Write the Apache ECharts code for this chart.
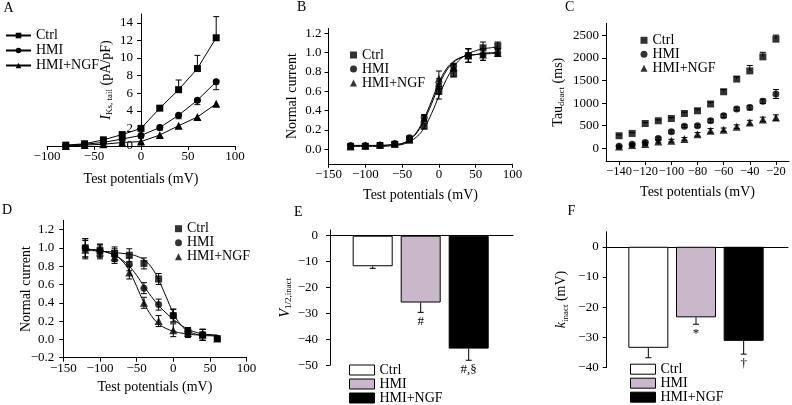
<!DOCTYPE html>
<html><head><meta charset="utf-8">
<script src="https://cdn.jsdelivr.net/npm/echarts@6/dist/echarts.min.js"></script>
<style>html,body{margin:0;padding:0;background:#fff}#c{width:792px;height:405px}</style>
</head><body><div id="c"></div>
<script>
// ---------- data ----------
const groups = ['Ctrl', 'HMI', 'HMI+NGF'];

// Panel A: I_Ks,tail vs test potential
const vA = [-80, -60, -40, -20, 0, 20, 40, 60, 80];
const aCtrl = [0.1, 0.25, 0.7, 1.3, 2.0, 4.3, 6.4, 8.8, 12.3];
const aHMI = [0.05, 0.2, 0.4, 0.8, 1.2, 2.1, 3.5, 5.2, 7.3];
const aNGF = [0.0, 0.1, 0.2, 0.4, 0.5, 1.25, 2.3, 3.3, 4.8];
const aCtrlErr = [0.05, 0.1, 0.15, 0.2, 0.3, 0.3, 1.1, 1.5, 2.4];
const aHMIErr = [0.05, 0.1, 0.1, 0.2, 0.3, 0.3, 0.4, 0.5, 0.9];
const aNGFErr = [0.05, 0.05, 0.1, 0.1, 0.2, 0.3, 0.3, 0.3, 0.3];
const aYTicks = [0, 2, 4, 6, 8, 10, 12, 14];

// Panel B: activation
const vB = [-120, -100, -80, -60, -40, -20, 0, 20, 40, 60, 80];
const bCtrl = [0.03, 0.03, 0.04, 0.05, 0.1, 0.24, 0.6, 0.78, 0.97, 1.05, 1.07];
const bHMI = [0.04, 0.04, 0.04, 0.06, 0.12, 0.33, 0.65, 0.86, 0.97, 0.98, 1.0];
const bNGF = [0.03, 0.04, 0.05, 0.06, 0.1, 0.32, 0.73, 0.85, 0.97, 0.98, 1.0];
const bErr = [0.02, 0.02, 0.02, 0.02, 0.02, 0.03, 0.08, 0.03, 0.07, 0.06, 0.04];
const fitXB = [-120, -100, -80, -60, -50, -40, -30, -20, -10, 0, 10, 20, 30, 40, 50, 60, 70, 80];
const bFitCtrl = [0.03, 0.03, 0.03, 0.04, 0.05, 0.08, 0.13, 0.22, 0.37, 0.55, 0.72, 0.85, 0.94, 0.99, 1.02, 1.04, 1.05, 1.06];
const bFitHMI = [0.04, 0.04, 0.04, 0.05, 0.06, 0.1, 0.17, 0.3, 0.47, 0.66, 0.81, 0.9, 0.95, 0.97, 0.98, 0.99, 1.0, 1.0];
const bFitNGF = [0.04, 0.04, 0.04, 0.05, 0.06, 0.1, 0.18, 0.32, 0.5, 0.69, 0.83, 0.91, 0.95, 0.97, 0.98, 0.99, 0.99, 1.0];
const bYTicks = [0, 0.2, 0.4, 0.6, 0.8, 1.0, 1.2];

// Panel C: Tau deact
const vC = [-140, -130, -120, -110, -100, -90, -80, -70, -60, -50, -40, -30, -20];
const cCtrl = [280, 330, 550, 610, 660, 770, 830, 980, 1250, 1530, 1710, 2020, 2410];
const cHMI = [50, 90, 130, 220, 370, 490, 500, 610, 720, 870, 900, 1040, 1200];
const cNGF = [40, 75, 100, 150, 170, 210, 310, 390, 410, 480, 570, 640, 680];
const cCtrlErr = [20, 20, 20, 20, 20, 30, 40, 40, 50, 50, 120, 100, 90];
const cHMIErr = [20, 20, 30, 30, 30, 30, 30, 40, 40, 40, 50, 50, 100];
const cNGFErr = [20, 20, 30, 30, 30, 30, 40, 50, 40, 40, 50, 50, 60];
const cXTicks = [-140, -120, -100, -80, -60, -40, -20];
const cYTicks = [0, 500, 1000, 1500, 2000, 2500];

// Panel D: inactivation
const vD = [-120, -100, -80, -60, -40, -20, 0, 20, 40, 60];
const dCtrl = [1.0, 0.97, 0.94, 0.92, 0.83, 0.66, 0.26, 0.08, 0.05, 0.01];
const dHMI = [1.0, 0.97, 0.92, 0.82, 0.56, 0.38, 0.26, 0.08, 0.05, 0.01];
const dNGF = [0.98, 0.95, 0.9, 0.73, 0.4, 0.2, 0.1, 0.07, 0.05, 0.01];
const dErr = [0.1, 0.07, 0.07, 0.07, 0.06, 0.06, 0.07, 0.05, 0.06, 0.01];
const fitXD = [-120, -110, -100, -90, -80, -70, -60, -50, -40, -30, -20, -10, 0, 10, 20, 30, 40, 50, 60];
const dFitCtrl = [0.97, 0.97, 0.96, 0.96, 0.95, 0.94, 0.93, 0.91, 0.87, 0.79, 0.65, 0.47, 0.29, 0.16, 0.09, 0.06, 0.04, 0.04, 0.03];
const dFitHMI = [0.99, 0.98, 0.97, 0.95, 0.92, 0.87, 0.8, 0.7, 0.58, 0.47, 0.37, 0.29, 0.22, 0.16, 0.11, 0.08, 0.06, 0.05, 0.04];
const dFitNGF = [0.99, 0.98, 0.97, 0.95, 0.92, 0.86, 0.75, 0.58, 0.4, 0.26, 0.17, 0.12, 0.09, 0.07, 0.06, 0.05, 0.05, 0.05, 0.05];
const dYTicks = [-0.2, 0, 0.2, 0.4, 0.6, 0.8, 1.0, 1.2];

// Panel E: V1/2,inact
const eVals = [-11.8, -25.8, -43.6];
const eErr = [0.8, 3.8, 4.5];
const eSig = ['', '#', '#,\u00a7'];
const eYTicks = [-50, -40, -30, -20, -10, 0];

// Panel F: k_inact
const fVals = [-33.5, -23.4, -31.2];
const fErr = [3.3, 2.3, 4.4];
const fSig = ['', '*', '\u2020'];
const fYTicks = [-40, -30, -20, -10, 0];

// ---------- style helpers ----------
const FONT = 'Liberation Serif';
const barColors = ['#ffffff', '#c8b8ca', '#000000'];
const syms = ['rect', 'circle', 'triangle'];
const symSizes = [7, 7, 8];

function minus(dec) {
  return function (v) {
    const s = dec == null ? String(v) : Number(v).toFixed(dec);
    return s.replace('-', '\u2212');
  };
}
const rich = {
  i: { fontFamily: FONT, fontSize: 14, fontStyle: 'italic', color: '#000', lineHeight: 16 },
  s: { fontFamily: FONT, fontSize: 9, color: '#000', lineHeight: 8, verticalAlign: 'bottom' }
};
function vAxis(gridIndex, min, max, o) {
  o = o || {};
  const a = {
    type: 'value', gridIndex: gridIndex, min: min, max: max,
    splitLine: { show: false },
    axisLine: { show: true, onZero: !!o.onZero, lineStyle: { color: '#000', width: 1 } },
    axisTick: { show: o.tick !== false, inside: false, length: 4, lineStyle: { color: '#000', width: 1 } },
    axisLabel: { show: o.label !== false, color: '#000', fontFamily: FONT, fontSize: o.fs || 13,
                 showMinLabel: true, showMaxLabel: true, hideOverlap: false,
                 margin: o.margin == null ? 5 : o.margin, formatter: minus(o.dec) },
    nameLocation: 'middle', nameMoveOverlap: false,
    nameTextStyle: { color: '#000', fontFamily: FONT, fontSize: 14, lineHeight: 16, rich: rich }
  };
  if (o.interval != null) a.interval = o.interval;
  if (o.offset != null) a.offset = o.offset;
  if (o.ticks) { a.axisLabel.customValues = o.ticks; a.axisTick.customValues = o.ticks; }
  if (o.name) { a.name = o.name; a.nameGap = o.nameGap; }
  if (o.nameRotate != null) a.nameRotate = o.nameRotate;
  if (o.show === false) a.show = false;
  return a;
}

function errSeries(id, xi, yi, xs, ys, es, dir, sig) {
  return {
    type: 'custom', name: id, xAxisIndex: xi, yAxisIndex: yi, silent: true, z: 1,
    data: xs.map((x, i) => [x, ys[i], es[i]]),
    renderItem: function (params, api) {
      const x = api.value(0), y = api.value(1), e = api.value(2);
      const hi = dir === 'down' ? y : y + e;
      const lo = dir === 'up' ? y : y - e;
      const p1 = api.coord([x, hi]), p0 = api.coord([x, lo]);
      const st = { stroke: '#000', lineWidth: 1 };
      const ch = [{ type: 'line', shape: { x1: p0[0], y1: p0[1], x2: p1[0], y2: p1[1] }, style: st }];
      if (dir !== 'down') ch.push({ type: 'line', shape: { x1: p1[0] - 3, y1: p1[1], x2: p1[0] + 3, y2: p1[1] }, style: st });
      if (dir !== 'up') ch.push({ type: 'line', shape: { x1: p0[0] - 3, y1: p0[1], x2: p0[0] + 3, y2: p0[1] }, style: st });
      if (sig && sig[params.dataIndex]) {
        ch.push({ type: 'text', x: p0[0], y: p0[1] + 3,
          style: { text: sig[params.dataIndex], fill: '#000', font: '13px "' + FONT + '"', align: 'center', verticalAlign: 'top' } });
      }
      return { type: 'group', children: ch };
    }
  };
}
function pts(xs, ys) { return xs.map((x, i) => [x, ys[i]]); }

// ---------- grids ----------
const grids = [
  { left: 47, top: 14, width: 188, height: 132 },        // A
  { left: 328.5, top: 28.5, width: 184, height: 135.3 }, // B
  { left: 606, top: 23.3, width: 183, height: 137.8 },   // C
  { left: 63.3, top: 220.4, width: 183.3, height: 137.3 }, // D
  { left: 330, top: 230, width: 183, height: 135.2 },    // E axes
  { left: 348.7, top: 230, width: 144, height: 135.2 },  // E bars
  { left: 606.7, top: 231.7, width: 181.3, height: 135.7 }, // F axes
  { left: 624.5, top: 231.7, width: 143, height: 135.7 }    // F bars
].map(g => Object.assign({ outerBoundsMode: 'none', containLabel: false }, g));

const xAxes = [
  vAxis(0, -100, 100, { interval: 50, margin: 4, name: 'Test potentials (mV)', nameGap: 25 }),
  vAxis(1, -150, 100, { interval: 50, margin: 4, name: 'Test potentials (mV)', nameGap: 24 }),
  vAxis(2, -150, -10, { ticks: cXTicks, fs: 12.4, margin: 5, name: 'Test potentials (mV)', nameGap: 23 }),
  vAxis(3, -150, 100, { interval: 50, margin: 4, name: 'Test potentials (mV)', nameGap: 22 }),
  vAxis(4, 0, 1, { onZero: true, tick: false, label: false }),
  { type: 'category', gridIndex: 5, data: groups, show: false },
  vAxis(6, 0, 1, { onZero: true, tick: false, label: false }),
  { type: 'category', gridIndex: 7, data: groups, show: false }
];
const yAxes = [
  // A: y axis crosses x = 0 (grid centre), shifted there with a negative offset
  vAxis(0, 0, 15, { ticks: aYTicks, offset: -94, margin: 8, name: '{i|I}{s|Ks, tail} (pA/pF)', nameGap: 27, nameRotate: 90 }),
  vAxis(1, -0.15, 1.25, { ticks: bYTicks, dec: 1, margin: 7, name: 'Normal current', nameGap: 28, nameRotate: 90 }),
  vAxis(2, -280, 2760, { ticks: cYTicks, margin: 7, name: 'Tau{s|deact} (ms)', nameGap: 40, nameRotate: 90 }),
  vAxis(3, -0.2, 1.3, { ticks: dYTicks, dec: 1, margin: 9, name: 'Normal current', nameGap: 29, nameRotate: 90 }),
  vAxis(4, -50, 2.2, { ticks: eYTicks, margin: 12, name: '{i|V}{s|1/2,inact}', nameGap: 37, nameRotate: 90 }),
  vAxis(5, -50, 2.2, { show: false }),
  vAxis(6, -40, 5, { ticks: fYTicks, margin: 8, name: '{i|k}{s|inact} (mV)', nameGap: 37, nameRotate: 90 }),
  vAxis(7, -40, 5, { show: false })
];

// ---------- series ----------
const series = [];
// A
[aCtrl, aHMI, aNGF].forEach((ys, i) => {
  series.push({ type: 'line', name: 'A|' + groups[i], xAxisIndex: 0, yAxisIndex: 0, data: pts(vA, ys),
    symbol: syms[i], symbolSize: symSizes[i], showAllSymbol: true, z: 3,
    lineStyle: { color: '#000', width: 1 }, itemStyle: { color: '#000' } });
});
series.push(errSeries('A|eC', 0, 0, vA, aCtrl, aCtrlErr, 'up'));
series.push(errSeries('A|eH', 0, 0, vA, aHMI, aHMIErr, 'down'));
series.push(errSeries('A|eN', 0, 0, vA, aNGF, aNGFErr, 'down'));
// B
[bFitCtrl, bFitHMI, bFitNGF].forEach((ys, i) => {
  series.push({ type: 'line', name: 'B|fit' + i, xAxisIndex: 1, yAxisIndex: 1, data: pts(fitXB, ys),
    showSymbol: false, smooth: 0.4, z: 2, lineStyle: { color: '#000', width: 1 } });
});
[bCtrl, bHMI, bNGF].forEach((ys, i) => {
  series.push({ type: 'scatter', name: 'B|' + groups[i], xAxisIndex: 1, yAxisIndex: 1, data: pts(vB, ys),
    symbol: syms[i], symbolSize: symSizes[i], z: 3, itemStyle: { color: '#000' } });
  series.push(errSeries('B|e' + i, 1, 1, vB, ys, bErr, 'both'));
});
// C
[[cCtrl, cCtrlErr, 'up'], [cHMI, cHMIErr, 'both'], [cNGF, cNGFErr, 'both']].forEach((d, i) => {
  series.push({ type: 'scatter', name: 'C|' + groups[i], xAxisIndex: 2, yAxisIndex: 2, data: pts(vC, d[0]),
    symbol: syms[i], symbolSize: symSizes[i], z: 3, itemStyle: { color: '#000' } });
  series.push(errSeries('C|e' + i, 2, 2, vC, d[0], d[1], d[2]));
});
// D
[dFitCtrl, dFitHMI, dFitNGF].forEach((ys, i) => {
  series.push({ type: 'line', name: 'D|fit' + i, xAxisIndex: 3, yAxisIndex: 3, data: pts(fitXD, ys),
    showSymbol: false, smooth: 0.4, z: 2, lineStyle: { color: '#000', width: 1 } });
});
[dCtrl, dHMI, dNGF].forEach((ys, i) => {
  series.push({ type: 'scatter', name: 'D|' + groups[i], xAxisIndex: 3, yAxisIndex: 3, data: pts(vD, ys),
    symbol: syms[i], symbolSize: symSizes[i], z: 3, itemStyle: { color: '#000' } });
  series.push(errSeries('D|e' + i, 3, 3, vD, ys, dErr, 'both'));
});
// E, F bars
[['E', 5, eVals, eErr, eSig], ['F', 7, fVals, fErr, fSig]].forEach(p => {
  groups.forEach((g, i) => {
    series.push({ type: 'bar', name: p[0] + '|' + g, xAxisIndex: p[1], yAxisIndex: p[1],
      data: groups.map((gg, j) => j === i ? p[2][j] : '-'),
      barWidth: 40, barGap: '-100%', z: 2,
      itemStyle: { color: barColors[i], borderColor: '#000', borderWidth: 1 } });
  });
  series.push(errSeries(p[0] + '|err', p[1], p[1], [0, 1, 2], p[2], p[3], 'down', p[4]));
});

// ---------- legends ----------
function leg(panel, left, top, o) {
  return Object.assign({
    data: groups.map(g => panel + '|' + g), orient: 'vertical', left: left, top: top, padding: 0,
    selectedMode: false, formatter: n => n.split('|')[1],
    textStyle: { color: '#000', fontFamily: FONT, fontSize: 14, lineHeight: o.lh }
  }, o.extra);
}
const legends = [
  leg('A', 5, 28, { lh: 15, extra: { itemWidth: 25, itemHeight: 7, itemGap: 0 } }),
  leg('B', 350, 48, { lh: 10.5, extra: { itemWidth: 7, itemHeight: 7, itemGap: 0 } }),
  leg('C', 640.5, 33.3, { lh: 12, extra: { itemWidth: 7, itemHeight: 7, itemGap: 0 } }),
  leg('D', 175, 221.7, { lh: 13.3, extra: { itemWidth: 7, itemHeight: 7, itemGap: 0 } }),
  leg('E', 349, 363, { lh: 11.5, extra: { icon: 'rect', itemWidth: 25, itemHeight: 10, itemGap: 0,
        itemStyle: { borderColor: '#000', borderWidth: 1 } } }),
  leg('F', 630, 362.2, { lh: 11.8, extra: { icon: 'rect', itemWidth: 25, itemHeight: 10, itemGap: 0,
        itemStyle: { borderColor: '#000', borderWidth: 1 } } })
];

// ---------- panel letters ----------
const letters = [['A', 3.5, 1], ['B', 297, 0], ['C', 565, 0], ['D', 2, 203], ['E', 294, 205], ['F', 567.5, 204.5]];
const graphic = letters.map(l => ({ type: 'text', left: l[1], top: l[2],
  style: { text: l[0], fill: '#000', font: '14px "' + FONT + '"' } }));

const chart = echarts.init(document.getElementById('c'), null, { renderer: 'canvas' });
chart.setOption({
  animation: false,
  backgroundColor: '#fff',
  textStyle: { fontFamily: FONT },
  grid: grids, xAxis: xAxes, yAxis: yAxes,
  legend: legends, graphic: graphic, series: series
});
</script>
</body></html>
